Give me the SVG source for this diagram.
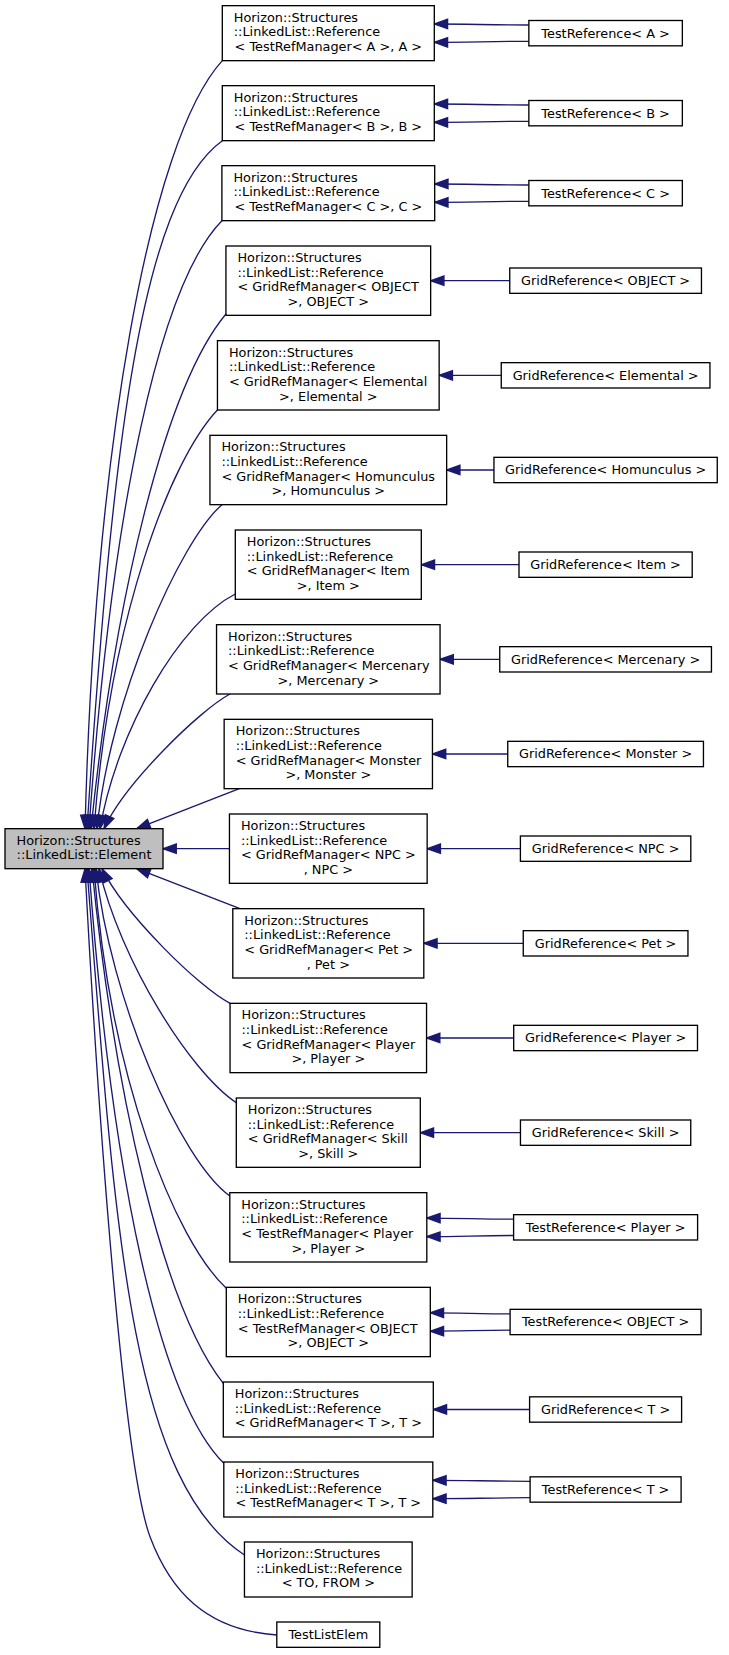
<svg xmlns="http://www.w3.org/2000/svg" width="729" height="1655" viewBox="0 0 729 1655">
<style>
.n rect{fill:#ffffff;stroke:#000000;stroke-width:1.33}
.root rect{fill:#bfbfbf;stroke:#000000;stroke-width:1.33}
text{font-family:"DejaVu Sans","Noto Sans",sans-serif;font-size:12.85px;fill:#000000}
.m{text-anchor:middle}
#edges path{fill:none;stroke:#191970;stroke-width:1.33;marker-end:url(#ah)}
</style>
<defs>
<marker id="ah" markerUnits="userSpaceOnUse" markerWidth="16" markerHeight="12" refX="13.8" refY="5.2" orient="auto" overflow="visible">
<path d="M0.5,0.5 L13.8,5.2 L0.5,9.9 z" fill="#191970" stroke="#191970" stroke-width="1.33"/>
</marker>
</defs>
<rect width="729" height="1655" fill="#ffffff"/>
<g id="edges">
<path d="M222.3,60.67 C149.3,140.7 95,450 85,828.67"/>
<path d="M222.3,140.67 C140,200 112,450 87,828.67"/>
<path d="M221.9,220.67 C160,284 112,505 89,828.67"/>
<path d="M225.95,314 C165,387 115,598 91,828.67"/>
<path d="M217.45,410 C170,460 110,618 94,828.67"/>
<path d="M222,504.67 C180,541 110,698 97,828.67"/>
<path d="M235.3,594 C180,622 117,730 100,828.67"/>
<path d="M230,694 C200,710 125,783 104,828.67"/>
<path d="M239.3,788.67 L136.7,828.67"/>
<path d="M229.45,848.67 L163,848.67"/>
<path d="M240,908.67 L136.7,868.67"/>
<path d="M230.05,1003.33 C200,988 125,915 102,868.67"/>
<path d="M236.3,1102.7 C190,1072 120,960 99,868.67"/>
<path d="M229.8,1196 C180,1160 110,1000 96,868.67"/>
<path d="M226.3,1288.3 C175,1240 110,1080 94,868.67"/>
<path d="M223.3,1383.3 C165,1310 115,1100 92,868.67"/>
<path d="M223.8,1463.3 C160,1400 112,1180 89,868.67"/>
<path d="M244.45,1555 C130,1480 115,1230 87,868.67"/>
<path d="M276.8,1635 C205,1630 170,1590 150,1536.7 C125,1470 100,1150 85,868.67"/>
<path d="M528.85,25 C490,25 470,24 434.3,24"/>
<path d="M528.85,41.3 C490,41.3 470,42.3 434.3,42.3"/>
<path d="M528.85,105 C490,105 470,104 434.3,104"/>
<path d="M528.85,121.3 C490,121.3 470,122.3 434.3,122.3"/>
<path d="M528.85,185 C490,185 470,184 434.7,184"/>
<path d="M528.85,201.3 C490,201.3 470,202.3 434.7,202.3"/>
<path d="M509.75,280.67 L430.65,280.67"/>
<path d="M501.25,375.33 L439.15,375.33"/>
<path d="M493.95,470 L446.65,470"/>
<path d="M519,564.67 L421.3,564.67"/>
<path d="M499.75,659.33 L440.05,659.33"/>
<path d="M507.75,754 L432.45,754"/>
<path d="M520.4,848.67 L427.15,848.67"/>
<path d="M523.25,943.33 L423.8,943.33"/>
<path d="M513.7,1038 L426.55,1038"/>
<path d="M520.45,1132.67 L420.3,1132.67"/>
<path d="M513.6,1219.2 C480,1219.2 460,1218.1 426.8,1218.1"/>
<path d="M513.6,1235.5 C480,1235.5 460,1236.6 426.8,1236.6"/>
<path d="M510.1,1313.8 C480,1313.8 460,1312.8 430.3,1312.8"/>
<path d="M510.1,1330.2 C480,1330.2 460,1331.2 430.3,1331.2"/>
<path d="M529.6,1409.5 L433.3,1409.5"/>
<path d="M530.1,1481.3 C490,1481.3 470,1480.3 432.8,1480.3"/>
<path d="M530.1,1497.7 C490,1497.7 470,1498.7 432.8,1498.7"/>
</g>
<g id="element" class="root">
<rect x="5" y="828.67" width="158" height="40"/>
<text x="16.5" y="844.6">Horizon::Structures</text>
<text x="84" y="859.2" class="m">::LinkedList::Element</text>
</g>
<g id="refA" class="n">
<rect x="222.3" y="5.67" width="212" height="55"/>
<text x="233.8" y="21.57">Horizon::Structures</text>
<text x="233.8" y="36.24">::LinkedList::Reference</text>
<text x="328.3" y="50.91" class="m">&lt; TestRefManager&lt; A &gt;, A &gt;</text>
</g>
<g id="refB" class="n">
<rect x="222.3" y="85.67" width="212" height="55"/>
<text x="233.8" y="101.57">Horizon::Structures</text>
<text x="233.8" y="116.24">::LinkedList::Reference</text>
<text x="328.3" y="130.91" class="m">&lt; TestRefManager&lt; B &gt;, B &gt;</text>
</g>
<g id="refC" class="n">
<rect x="221.9" y="165.67" width="212.8" height="55"/>
<text x="233.4" y="181.57">Horizon::Structures</text>
<text x="233.4" y="196.24">::LinkedList::Reference</text>
<text x="328.3" y="210.91" class="m">&lt; TestRefManager&lt; C &gt;, C &gt;</text>
</g>
<g id="refGridObject" class="n">
<rect x="225.95" y="246" width="204.7" height="69.33"/>
<text x="237.45" y="261.9">Horizon::Structures</text>
<text x="237.45" y="276.57">::LinkedList::Reference</text>
<text x="237.45" y="291.24">&lt; GridRefManager&lt; OBJECT</text>
<text x="328.3" y="305.91" class="m">&gt;, OBJECT &gt;</text>
</g>
<g id="refGridElemental" class="n">
<rect x="217.45" y="340.67" width="221.7" height="69.33"/>
<text x="228.95" y="356.57">Horizon::Structures</text>
<text x="228.95" y="371.24">::LinkedList::Reference</text>
<text x="228.95" y="385.91">&lt; GridRefManager&lt; Elemental</text>
<text x="328.3" y="400.58" class="m">&gt;, Elemental &gt;</text>
</g>
<g id="refGridHomunculus" class="n">
<rect x="209.95" y="435.33" width="236.7" height="69.33"/>
<text x="221.45" y="451.23">Horizon::Structures</text>
<text x="221.45" y="465.9">::LinkedList::Reference</text>
<text x="221.45" y="480.57">&lt; GridRefManager&lt; Homunculus</text>
<text x="328.3" y="495.24" class="m">&gt;, Homunculus &gt;</text>
</g>
<g id="refGridItem" class="n">
<rect x="235.3" y="530" width="186" height="69.33"/>
<text x="246.8" y="545.9">Horizon::Structures</text>
<text x="246.8" y="560.57">::LinkedList::Reference</text>
<text x="246.8" y="575.24">&lt; GridRefManager&lt; Item</text>
<text x="328.3" y="589.91" class="m">&gt;, Item &gt;</text>
</g>
<g id="refGridMercenary" class="n">
<rect x="216.55" y="624.67" width="223.5" height="69.33"/>
<text x="228.05" y="640.57">Horizon::Structures</text>
<text x="228.05" y="655.24">::LinkedList::Reference</text>
<text x="228.05" y="669.91">&lt; GridRefManager&lt; Mercenary</text>
<text x="328.3" y="684.58" class="m">&gt;, Mercenary &gt;</text>
</g>
<g id="refGridMonster" class="n">
<rect x="224.15" y="719.33" width="208.3" height="69.33"/>
<text x="235.65" y="735.23">Horizon::Structures</text>
<text x="235.65" y="749.9">::LinkedList::Reference</text>
<text x="235.65" y="764.57">&lt; GridRefManager&lt; Monster</text>
<text x="328.3" y="779.24" class="m">&gt;, Monster &gt;</text>
</g>
<g id="refGridNPC" class="n">
<rect x="229.45" y="814" width="197.7" height="69.33"/>
<text x="240.95" y="829.9">Horizon::Structures</text>
<text x="240.95" y="844.57">::LinkedList::Reference</text>
<text x="240.95" y="859.24">&lt; GridRefManager&lt; NPC &gt;</text>
<text x="328.3" y="873.91" class="m">, NPC &gt;</text>
</g>
<g id="refGridPet" class="n">
<rect x="232.8" y="908.67" width="191" height="69.33"/>
<text x="244.3" y="924.57">Horizon::Structures</text>
<text x="244.3" y="939.24">::LinkedList::Reference</text>
<text x="244.3" y="953.91">&lt; GridRefManager&lt; Pet &gt;</text>
<text x="328.3" y="968.58" class="m">, Pet &gt;</text>
</g>
<g id="refGridPlayer" class="n">
<rect x="230.05" y="1003.33" width="196.5" height="69.33"/>
<text x="241.55" y="1019.23">Horizon::Structures</text>
<text x="241.55" y="1033.9">::LinkedList::Reference</text>
<text x="241.55" y="1048.57">&lt; GridRefManager&lt; Player</text>
<text x="328.3" y="1063.24" class="m">&gt;, Player &gt;</text>
</g>
<g id="refGridSkill" class="n">
<rect x="236.3" y="1098" width="184" height="69.33"/>
<text x="247.8" y="1113.9">Horizon::Structures</text>
<text x="247.8" y="1128.57">::LinkedList::Reference</text>
<text x="247.8" y="1143.24">&lt; GridRefManager&lt; Skill</text>
<text x="328.3" y="1157.91" class="m">&gt;, Skill &gt;</text>
</g>
<g id="refTestPlayer" class="n">
<rect x="229.8" y="1192.67" width="197" height="69.33"/>
<text x="241.3" y="1208.57">Horizon::Structures</text>
<text x="241.3" y="1223.24">::LinkedList::Reference</text>
<text x="241.3" y="1237.91">&lt; TestRefManager&lt; Player</text>
<text x="328.3" y="1252.58" class="m">&gt;, Player &gt;</text>
</g>
<g id="refTestObject" class="n">
<rect x="226.3" y="1287.33" width="204" height="69.33"/>
<text x="237.8" y="1303.23">Horizon::Structures</text>
<text x="237.8" y="1317.9">::LinkedList::Reference</text>
<text x="237.8" y="1332.57">&lt; TestRefManager&lt; OBJECT</text>
<text x="328.3" y="1347.24" class="m">&gt;, OBJECT &gt;</text>
</g>
<g id="refGridT" class="n">
<rect x="223.3" y="1382" width="210" height="55"/>
<text x="234.8" y="1397.9">Horizon::Structures</text>
<text x="234.8" y="1412.57">::LinkedList::Reference</text>
<text x="328.3" y="1427.24" class="m">&lt; GridRefManager&lt; T &gt;, T &gt;</text>
</g>
<g id="refTestT" class="n">
<rect x="223.8" y="1462" width="209" height="55"/>
<text x="235.3" y="1477.9">Horizon::Structures</text>
<text x="235.3" y="1492.57">::LinkedList::Reference</text>
<text x="328.3" y="1507.24" class="m">&lt; TestRefManager&lt; T &gt;, T &gt;</text>
</g>
<g id="refToFrom" class="n">
<rect x="244.45" y="1542" width="167.7" height="55"/>
<text x="255.95" y="1557.9">Horizon::Structures</text>
<text x="255.95" y="1572.57">::LinkedList::Reference</text>
<text x="328.3" y="1587.24" class="m">&lt; TO, FROM &gt;</text>
</g>
<g id="testListElem" class="n">
<rect x="276.8" y="1622" width="103" height="25.33"/>
<text x="328.3" y="1639" class="m">TestListElem</text>
</g>
<g id="testRefA" class="n">
<rect x="528.85" y="20.5" width="153.5" height="25.33"/>
<text x="605.6" y="37.5" class="m">TestReference&lt; A &gt;</text>
</g>
<g id="testRefB" class="n">
<rect x="528.85" y="100.5" width="153.5" height="25.33"/>
<text x="605.6" y="117.5" class="m">TestReference&lt; B &gt;</text>
</g>
<g id="testRefC" class="n">
<rect x="528.85" y="180.5" width="153.5" height="25.33"/>
<text x="605.6" y="197.5" class="m">TestReference&lt; C &gt;</text>
</g>
<g id="gridRefObject" class="n">
<rect x="509.75" y="268" width="191.7" height="25.33"/>
<text x="605.6" y="285" class="m">GridReference&lt; OBJECT &gt;</text>
</g>
<g id="gridRefElemental" class="n">
<rect x="501.25" y="362.67" width="208.7" height="25.33"/>
<text x="605.6" y="379.67" class="m">GridReference&lt; Elemental &gt;</text>
</g>
<g id="gridRefHomunculus" class="n">
<rect x="493.95" y="457.33" width="223.3" height="25.33"/>
<text x="605.6" y="474.33" class="m">GridReference&lt; Homunculus &gt;</text>
</g>
<g id="gridRefItem" class="n">
<rect x="519" y="552" width="173.2" height="25.33"/>
<text x="605.6" y="569" class="m">GridReference&lt; Item &gt;</text>
</g>
<g id="gridRefMercenary" class="n">
<rect x="499.75" y="646.67" width="211.7" height="25.33"/>
<text x="605.6" y="663.67" class="m">GridReference&lt; Mercenary &gt;</text>
</g>
<g id="gridRefMonster" class="n">
<rect x="507.75" y="741.33" width="195.7" height="25.33"/>
<text x="605.6" y="758.33" class="m">GridReference&lt; Monster &gt;</text>
</g>
<g id="gridRefNPC" class="n">
<rect x="520.4" y="836" width="170.4" height="25.33"/>
<text x="605.6" y="853" class="m">GridReference&lt; NPC &gt;</text>
</g>
<g id="gridRefPet" class="n">
<rect x="523.25" y="930.67" width="164.7" height="25.33"/>
<text x="605.6" y="947.67" class="m">GridReference&lt; Pet &gt;</text>
</g>
<g id="gridRefPlayer" class="n">
<rect x="513.7" y="1025.33" width="183.8" height="25.33"/>
<text x="605.6" y="1042.33" class="m">GridReference&lt; Player &gt;</text>
</g>
<g id="gridRefSkill" class="n">
<rect x="520.45" y="1120" width="170.3" height="25.33"/>
<text x="605.6" y="1137" class="m">GridReference&lt; Skill &gt;</text>
</g>
<g id="testRefPlayer" class="n">
<rect x="513.6" y="1214.67" width="184" height="25.33"/>
<text x="605.6" y="1231.67" class="m">TestReference&lt; Player &gt;</text>
</g>
<g id="testRefObject" class="n">
<rect x="510.1" y="1309.33" width="191" height="25.33"/>
<text x="605.6" y="1326.33" class="m">TestReference&lt; OBJECT &gt;</text>
</g>
<g id="gridRefT" class="n">
<rect x="529.6" y="1396.83" width="152" height="25.33"/>
<text x="605.6" y="1413.83" class="m">GridReference&lt; T &gt;</text>
</g>
<g id="testRefT" class="n">
<rect x="530.1" y="1476.83" width="151" height="25.33"/>
<text x="605.6" y="1493.83" class="m">TestReference&lt; T &gt;</text>
</g>
</svg>
